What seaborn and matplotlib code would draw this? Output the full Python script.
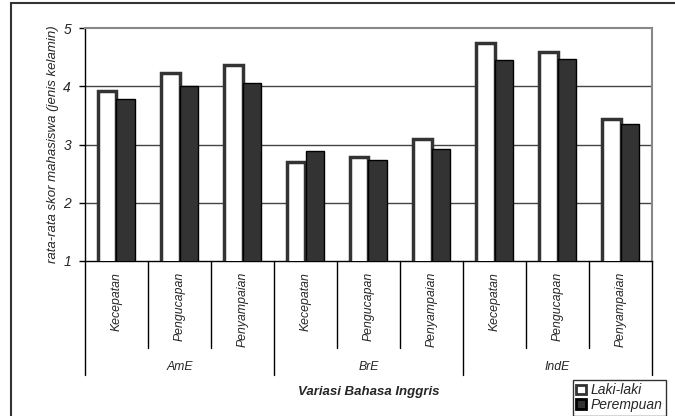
import pandas as pd
import matplotlib.pyplot as plt
import matplotlib.transforms as mtransforms
from matplotlib.patches import Rectangle
import seaborn as sns

# -------------------------
# DATA
# -------------------------
groups = ["AmE", "BrE", "IndE"]
aspects = ["Kecepatan", "Pengucapan", "Penyampaian"]
laki = [3.92, 4.22, 4.36, 2.70, 2.79, 3.10, 4.75, 4.58, 3.44]
perempuan = [3.78, 4.00, 4.05, 2.88, 2.74, 2.93, 4.45, 4.47, 3.35]
series = ["Laki-laki", "Perempuan"]
yticks = [1, 2, 3, 4, 5]

cats = [g + " " + a for g in groups for a in aspects]
df = pd.DataFrame({
    "kategori": cats * 2,
    "skor": laki + perempuan,
    "jenis": [series[0]] * len(cats) + [series[1]] * len(cats),
})

sns.set_style("white")
plt.rcParams["font.family"] = ["Liberation Sans", "DejaVu Sans"]

fig = plt.figure(figsize=(6.75, 4.16), dpi=100)
ax = fig.add_axes([85 / 675, 1 - 261 / 416, 567 / 675, 233 / 416])

sns.barplot(data=df, x="kategori", y="skor", hue="jenis", order=cats,
            palette=["white", "#333333"], width=0.58, ax=ax, legend=True)

# bar edges
edge_cols = ["#333333", "black"]
edge_lws = [2.5, 1.0]
for bar_container, ec, lw in zip(ax.containers, edge_cols, edge_lws):
    for p in bar_container:
        p.set_edgecolor(ec)
        p.set_linewidth(lw)
        p.set_zorder(3)

ax.set_ylim(1, 5)
ax.set_xlim(-0.5, len(cats) - 0.5)
ax.set_yticks(yticks)
ax.set_yticklabels([str(t) for t in yticks], fontsize=10, style="italic")
ax.tick_params(axis="y", length=4, width=1, color="black", pad=6, left=True)
ax.set_xticks([])
ax.set_xlabel("")

# gridlines
for t in yticks[1:-1]:
    ax.axhline(t, color="#444444", lw=1, zorder=1)
for side in ["top", "right"]:
    ax.spines[side].set_color("#888888")
    ax.spines[side].set_linewidth(1.5)
ax.spines["left"].set_color("black")
ax.spines["bottom"].set_color("black")
ax.spines["left"].set_linewidth(1)
ax.spines["bottom"].set_linewidth(1)

ax.set_ylabel("rata-rata skor mahasiswa (jenis kelamin)", fontsize=9.5, style="italic")
ax.yaxis.set_label_coords(-0.046, 0.5)

# multi-level category axis
trans = mtransforms.blended_transform_factory(ax.transData, ax.transAxes)
for i, c in enumerate(cats):
    ax.text(i, -0.047, aspects[i % 3], rotation=90, ha="center", va="top",
            fontsize=8.8, style="italic", transform=trans)
for k in range(len(cats) + 1):
    y_end = -0.489 if k % 3 == 0 else -0.373
    ax.plot([k - 0.5, k - 0.5], [0, y_end], color="black", lw=1,
            transform=trans, clip_on=False)
for j, g in enumerate(groups):
    ax.text(j * 3 + 1, -0.455, g, ha="center", va="center",
            fontsize=8.8, style="italic", transform=trans)
ax.text(0.5, -0.562, "Variasi Bahasa Inggris", ha="center", va="center",
        fontsize=9.5, style="italic", weight="bold", transform=ax.transAxes)

# legend
handles, labels = ax.get_legend_handles_labels()
ax.get_legend().remove()
leg = fig.legend(handles, labels, loc="upper left",
                 bbox_to_anchor=(573 / 675, 1 - 380 / 416),
                 bbox_transform=fig.transFigure, frameon=True, fancybox=False,
                 edgecolor="black", fontsize=10, handlelength=0.7,
                 handleheight=0.7, handletextpad=0.3, borderpad=0.25,
                 labelspacing=0.05, borderaxespad=0)
leg.get_frame().set_linewidth(1)
for h, ec in zip(leg.legend_handles, edge_cols):
    h.set_edgecolor(ec)
    h.set_linewidth(2)
for t in leg.get_texts():
    t.set_style("italic")

# outer frame
fig.patches.append(Rectangle((10.5 / 675, -0.1), 1.0, 1.1 - 3.5 / 416,
                             transform=fig.transFigure, fill=False,
                             edgecolor="#333333", lw=1.5))

plt.savefig("out.png", dpi=100)
